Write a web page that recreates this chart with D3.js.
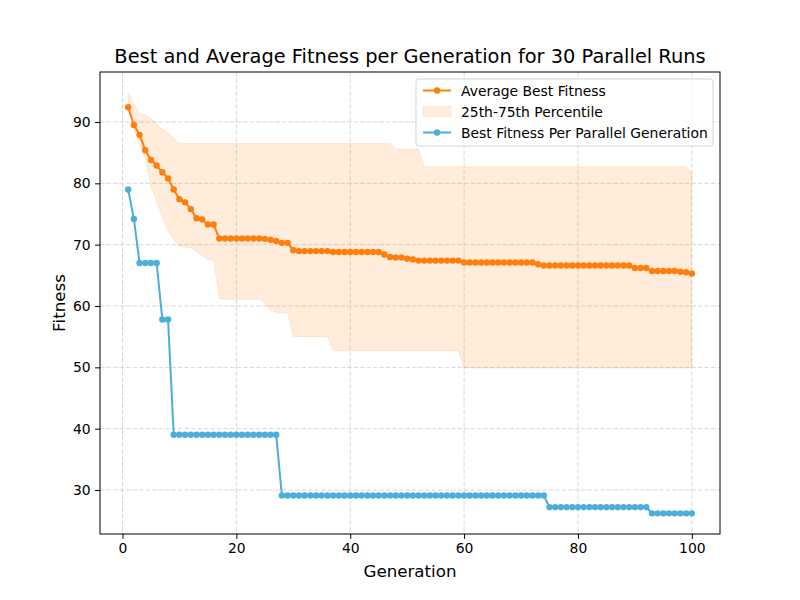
<!DOCTYPE html>
<html>
<head>
<meta charset="utf-8">
<script src="https://cdn.jsdelivr.net/npm/d3@7"></script>
<style>
  body { margin: 0; background: #fff; }
  svg { font-family: "DejaVu Sans", sans-serif; }
</style>
</head>
<body>
<svg id="chart" width="800" height="600"></svg>
<script>
// generations 1..100
const generations = d3.range(1, 101);

// average best fitness over the 30 runs
const avgBest = [
  92.4, 89.5, 87.9, 85.4, 83.8, 82.9, 81.8, 80.8, 79.0, 77.4,
  76.9, 75.8, 74.3, 74.1, 73.3, 73.3, 71.0, 71.0, 71.0, 71.0,
  71.0, 71.0, 71.0, 71.0, 70.95, 70.8, 70.6, 70.3, 70.3, 69.1,
  68.95, 68.95, 68.95, 68.95, 68.95, 68.95, 68.8, 68.8, 68.8, 68.8,
  68.8, 68.8, 68.8, 68.8, 68.8, 68.4, 68.0, 67.9, 67.9, 67.7,
  67.6, 67.4, 67.4, 67.4, 67.4, 67.4, 67.4, 67.4, 67.4, 67.1,
  67.1, 67.1, 67.1, 67.1, 67.1, 67.1, 67.1, 67.1, 67.1, 67.1,
  67.1, 67.1, 66.8, 66.6, 66.6, 66.6, 66.6, 66.6, 66.6, 66.6,
  66.6, 66.6, 66.6, 66.6, 66.6, 66.6, 66.6, 66.6, 66.6, 66.2,
  66.2, 66.2, 65.7, 65.7, 65.7, 65.7, 65.7, 65.6, 65.5, 65.3
];

// 25th percentile (lower edge of band)
const p25 = [
  92.0, 89.0, 86.5, 84.0, 79.5, 77.0, 74.5, 72.2, 70.8, 69.8,
  69.6, 69.5, 68.8, 68.2, 67.6, 67.5, 61.2, 61.1, 61.1, 61.1,
  61.1, 61.1, 61.1, 61.1, 60.5, 59.3, 59.0, 58.9, 58.8, 55.0,
  55.0, 55.0, 55.0, 55.0, 55.0, 55.0, 52.7, 52.7, 52.7, 52.7,
  52.7, 52.7, 52.7, 52.7, 52.7, 52.7, 52.7, 52.7, 52.7, 52.7,
  52.7, 52.7, 52.7, 52.7, 52.7, 52.7, 52.7, 52.7, 52.7, 49.9,
  49.9, 49.9, 49.9, 49.9, 49.9, 49.9, 49.9, 49.9, 49.9, 49.9,
  49.9, 49.9, 49.9, 49.9, 49.9, 49.9, 49.9, 49.9, 49.9, 49.9,
  49.9, 49.9, 49.9, 49.9, 49.9, 49.9, 49.9, 49.9, 49.9, 49.9,
  49.9, 49.9, 49.9, 49.9, 49.9, 49.9, 49.9, 49.9, 49.9, 49.9
];

// 75th percentile (upper edge of band)
const p75 = [
  94.8, 93.0, 91.3, 91.1, 90.6, 89.6, 88.8, 88.2, 87.4, 86.5,
  86.5, 86.5, 86.5, 86.5, 86.5, 86.5, 86.5, 86.5, 86.5, 86.5,
  86.5, 86.5, 86.5, 86.5, 86.5, 86.5, 86.5, 86.5, 86.5, 86.5,
  86.5, 86.5, 86.5, 86.5, 86.5, 86.5, 86.5, 86.5, 86.5, 86.5,
  86.5, 86.5, 86.5, 86.5, 86.5, 86.5, 86.5, 85.6, 85.6, 85.6,
  85.6, 85.6, 82.7, 82.7, 82.7, 82.7, 82.7, 82.7, 82.7, 82.7,
  82.7, 82.7, 82.7, 82.7, 82.7, 82.7, 82.7, 82.7, 82.7, 82.7,
  82.7, 82.7, 82.7, 82.7, 82.7, 82.7, 82.7, 82.7, 82.7, 82.7,
  82.7, 82.7, 82.7, 82.7, 82.7, 82.7, 82.7, 82.7, 82.7, 82.7,
  82.7, 82.7, 82.7, 82.7, 82.7, 82.7, 82.7, 82.7, 82.7, 81.6
];

// best fitness found in each parallel generation
const bestPerGen = [
  79.0, 74.2, 67.0, 67.0, 67.0, 67.0, 57.8, 57.8, 39.0, 39.0,
  39.0, 39.0, 39.0, 39.0, 39.0, 39.0, 39.0, 39.0, 39.0, 39.0,
  39.0, 39.0, 39.0, 39.0, 39.0, 39.0, 39.0, 29.1, 29.1, 29.1,
  29.1, 29.1, 29.1, 29.1, 29.1, 29.1, 29.1, 29.1, 29.1, 29.1,
  29.1, 29.1, 29.1, 29.1, 29.1, 29.1, 29.1, 29.1, 29.1, 29.1,
  29.1, 29.1, 29.1, 29.1, 29.1, 29.1, 29.1, 29.1, 29.1, 29.1,
  29.1, 29.1, 29.1, 29.1, 29.1, 29.1, 29.1, 29.1, 29.1, 29.1,
  29.1, 29.1, 29.1, 29.1, 27.2, 27.2, 27.2, 27.2, 27.2, 27.2,
  27.2, 27.2, 27.2, 27.2, 27.2, 27.2, 27.2, 27.2, 27.2, 27.2,
  27.2, 27.2, 26.2, 26.2, 26.2, 26.2, 26.2, 26.2, 26.2, 26.2
];

const xTicks = [0, 20, 40, 60, 80, 100];
const yTicks = [30, 40, 50, 60, 70, 80, 90];

const ORANGE = '#ff7f0e';
const BLUE = '#4daed9';

const W = 800, H = 600;
const M = { left: 100, right: 80, top: 72, bottom: 66 };
const iw = W - M.left - M.right, ih = H - M.top - M.bottom;

const svg = d3.select('#chart');
const g = svg.append('g').attr('transform', `translate(${M.left},${M.top})`);

const x = d3.scaleLinear().domain([-3.95, 104.95]).range([0, iw]);
const y = d3.scaleLinear().domain([22.83, 98.15]).range([ih, 0]);

// grid
const grid = g.append('g');
xTicks.forEach(t => grid.append('line')
  .attr('x1', x(t)).attr('x2', x(t)).attr('y1', 0).attr('y2', ih)
  .attr('stroke', '#d4d4d4').attr('stroke-width', 0.9).attr('stroke-dasharray', '4.5,2'));
yTicks.forEach(t => grid.append('line')
  .attr('x1', 0).attr('x2', iw).attr('y1', y(t)).attr('y2', y(t))
  .attr('stroke', '#d4d4d4').attr('stroke-width', 0.9).attr('stroke-dasharray', '4.5,2'));

// percentile band
const band = generations.map((gen, i) => ({ gen, lo: p25[i], hi: p75[i] }));
g.append('path').datum(band)
  .attr('d', d3.area().x(d => x(d.gen)).y0(d => y(d.lo)).y1(d => y(d.hi)))
  .attr('fill', ORANGE).attr('fill-opacity', 0.15)
  .attr('stroke', ORANGE).attr('stroke-opacity', 0.12).attr('stroke-width', 1);

function series(vals, color) {
  const pts = generations.map((gen, i) => ({ gen, v: vals[i] }));
  g.append('path').datum(pts)
    .attr('d', d3.line().x(d => x(d.gen)).y(d => y(d.v)))
    .attr('fill', 'none').attr('stroke', color).attr('stroke-width', 2);
  g.append('g').selectAll('circle').data(pts).enter().append('circle')
    .attr('cx', d => x(d.gen)).attr('cy', d => y(d.v)).attr('r', 3.2)
    .attr('fill', color);
}
series(avgBest, ORANGE);
series(bestPerGen, BLUE);

// axes
const xAxis = g.append('g').attr('transform', `translate(0,${ih})`)
  .call(d3.axisBottom(x).tickValues(xTicks).tickSize(4.9).tickPadding(4.5));
const yAxis = g.append('g')
  .call(d3.axisLeft(y).tickValues(yTicks).tickSize(4.9).tickPadding(4.5));
[xAxis, yAxis].forEach(a => {
  a.select('.domain').remove();
  a.selectAll('text').attr('font-size', 13.9).attr('fill', '#000')
    .attr('font-family', '"DejaVu Sans", sans-serif');
  a.selectAll('line').attr('stroke', '#000').attr('stroke-width', 1);
});

g.append('rect').attr('width', iw).attr('height', ih)
  .attr('fill', 'none').attr('stroke', '#000').attr('stroke-width', 1);

// labels
svg.append('text').attr('x', M.left + iw / 2).attr('y', 63)
  .attr('text-anchor', 'middle').attr('font-size', 19.4)
  .text('Best and Average Fitness per Generation for 30 Parallel Runs');
svg.append('text').attr('x', M.left + iw / 2).attr('y', 577)
  .attr('text-anchor', 'middle').attr('font-size', 16.7).text('Generation');
svg.append('text').attr('transform', `translate(65,${M.top + ih / 2}) rotate(-90)`)
  .attr('text-anchor', 'middle').attr('font-size', 16.7).text('Fitness');

// legend
const lg = svg.append('g').attr('transform', 'translate(416,79)');
lg.append('rect').attr('width', 297).attr('height', 67).attr('rx', 3)
  .attr('fill', '#fff').attr('fill-opacity', 0.8)
  .attr('stroke', '#d5d5d5').attr('stroke-width', 1);
const items = [
  { label: 'Average Best Fitness', type: 'line', color: ORANGE },
  { label: '25th-75th Percentile', type: 'patch', color: ORANGE },
  { label: 'Best Fitness Per Parallel Generation', type: 'line', color: BLUE }
];
items.forEach((it, i) => {
  const cy = 11.5 + i * 21;
  if (it.type === 'line') {
    lg.append('line').attr('x1', 7).attr('x2', 35).attr('y1', cy).attr('y2', cy)
      .attr('stroke', it.color).attr('stroke-width', 2);
    lg.append('circle').attr('cx', 21).attr('cy', cy).attr('r', 3.2).attr('fill', it.color);
  } else {
    lg.append('rect').attr('x', 7).attr('y', cy - 5).attr('width', 28).attr('height', 10)
      .attr('fill', it.color).attr('fill-opacity', 0.15)
      .attr('stroke', it.color).attr('stroke-opacity', 0.12);
  }
  lg.append('text').attr('x', 45).attr('y', cy + 5).attr('font-size', 13.9).text(it.label);
});
</script>
</body>
</html>
